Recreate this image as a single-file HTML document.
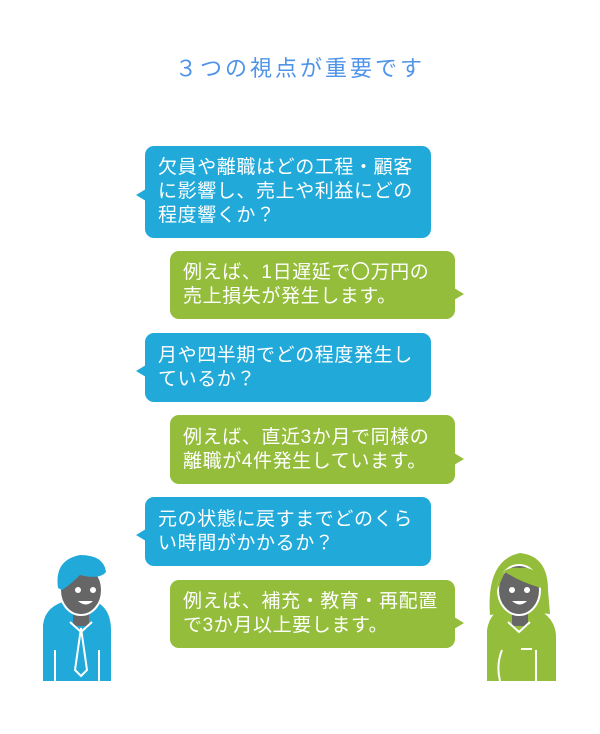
<!DOCTYPE html>
<html><head><meta charset="utf-8"><style>
body{margin:0;width:600px;height:734px;background:#fff;position:relative;overflow:hidden;font-family:"Liberation Sans","Noto Sans CJK JP",sans-serif}
.t{position:absolute;top:51px;left:0;width:600px;text-align:center;color:#4f94e8;font-size:22px;letter-spacing:3px}
.b{position:absolute;color:#fff;font-size:19px;line-height:24px;border-radius:9px;padding:0 4px 0 13px;box-sizing:border-box;display:flex;align-items:center;white-space:nowrap;letter-spacing:0.6px}
.bl{background:#21aad9;left:145px;width:286px}
.gr{background:#93bd3a;left:170px;width:285px}
.bl:before{content:"";position:absolute;left:-9px;top:50%;border:6px solid transparent;border-right:10px solid #21aad9;border-left:0;transform:translateY(-3px)}
.gr:after{content:"";position:absolute;right:-9px;top:50%;border:6px solid transparent;border-left:10px solid #93bd3a;border-right:0;transform:translateY(3px)}
</style></head><body>
<div class="t">３つの視点が重要です</div>
<div class="b bl" style="top:146px;height:92px">欠員や離職はどの工程・顧客<br>に影響し、売上や利益にどの<br>程度響くか？</div>
<div class="b gr" style="top:251px;height:68px">例えば、1日遅延で〇万円の<br>売上損失が発生します。</div>
<div class="b bl" style="top:333px;height:69px">月や四半期でどの程度発生し<br>ているか？</div>
<div class="b gr" style="top:415px;height:69px">例えば、直近3か月で同様の<br>離職が4件発生しています。</div>
<div class="b bl" style="top:497px;height:69px">元の状態に戻すまでどのくら<br>い時間がかかるか？</div>
<div class="b gr" style="top:580px;height:68px">例えば、補充・教育・再配置<br>で3か月以上要します。</div>
<svg width="600" height="734" style="position:absolute;left:0;top:0">
<g>
<path d="M43 681 V625 Q45 605 70 600 L86 598 L100 604 Q111 612 111 630 V681 Z" fill="#21aad9"/>
<rect x="73" y="612" width="16" height="14" fill="#666"/>
<ellipse cx="81" cy="590" rx="21" ry="25" fill="#666" stroke="#fff" stroke-width="2"/>
<path d="M58 588 Q54 560 80 555 Q104 555 106 572 Q100 580 80 575 Q70 585 62 590 Z" fill="#21aad9"/>
<circle cx="78" cy="590" r="3" fill="#fff"/><circle cx="93" cy="590" r="3" fill="#fff"/>
<path d="M78 601 Q86 608 93 601 Z" fill="#fff"/>
<path d="M81 628 L75 670 L81 676 L87 670 Z" fill="none" stroke="#fff" stroke-width="2"/>
<path d="M70 622 L81 632 L92 622" fill="none" stroke="#fff" stroke-width="2"/>
<path d="M55 650 V681 M99 650 V681" stroke="#fff" stroke-width="2"/>
</g>
<g>
<path d="M487 681 V630 Q490 610 510 605 L525 605 Q554 612 556 635 V681 Z" fill="#93bd3a"/>
<path d="M490 615 Q486 560 520 553 Q548 556 548 590 L550 614 Q520 610 490 615 Z" fill="#93bd3a"/>
<rect x="512" y="612" width="16" height="14" fill="#666"/>
<ellipse cx="519" cy="590" rx="21" ry="25" fill="#666" stroke="#fff" stroke-width="2"/>
<path d="M497 590 Q498 565 520 568 Q530 566 540 575 L541 588 Q520 582 505 572 Z" fill="#93bd3a"/>
<circle cx="512" cy="590" r="3" fill="#fff"/><circle cx="527" cy="590" r="3" fill="#fff"/>
<path d="M512 601 Q520 608 527 601 Z" fill="#fff"/>
<path d="M508 622 L519 632 L530 622" fill="none" stroke="#fff" stroke-width="2"/>
<path d="M502 650 Q496 665 500 681 M536 650 V681 M521 649 H532" stroke="#fff" stroke-width="2" fill="none"/>
</g>
</svg>
</body></html>
